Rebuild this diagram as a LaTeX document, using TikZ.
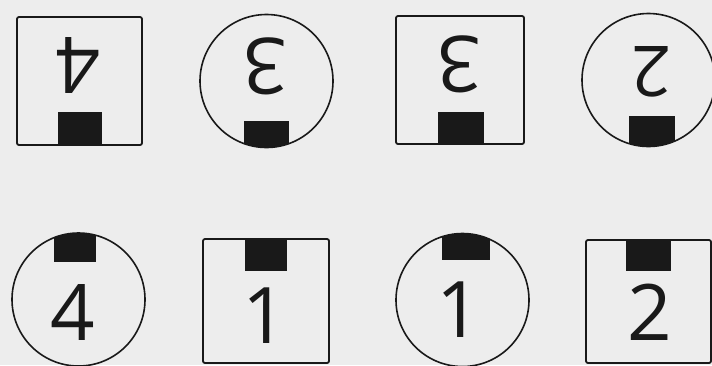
\documentclass[tikz,border=0pt]{standalone}
\usepackage{fontspec}
\newfontfamily\digfont{Open Sans}
\definecolor{bg}{RGB}{237,237,237}
\definecolor{ink}{RGB}{25,25,25}
\tikzset{
  boxframe/.style={draw=ink, line width=1.8pt, rounded corners=2pt, inner sep=0pt},
  ringframe/.style={draw=ink, line width=1.6pt, circle, inner sep=0pt, minimum size=133pt},
  digit/.style={font=\digfont\fontsize{78}{78}\selectfont, text=ink, inner sep=0pt},
  blockfill/.style={fill=ink},
}
\begin{document}
\begin{tikzpicture}[x=1pt,y=-1pt]
\fill[bg] (0,0) rectangle (712,365);
\useasboundingbox (0,0) rectangle (712,365);

% ---------- top row (rotated) ----------
\node[boxframe, minimum width=125pt, minimum height=128pt] (s1) at (79.5,81) {};
\fill[blockfill] (57.5,112) rectangle (101.5,145);
\node[digit, rotate=180] (d1) at (78,65) {4};

\node[ringframe] (c2) at (266.5,81) {};
\begin{scope}
  \clip (266.5,81) circle[radius=66.5];
  \fill[blockfill] (244,121) rectangle (289,150);
\end{scope}
\node[digit, rotate=180] (d2) at (265,66) {3};

\node[boxframe, minimum width=128pt, minimum height=128pt] (s3) at (460,80) {};
\fill[blockfill] (438,112) rectangle (484,144);
\node[digit, rotate=180] (d3) at (459,64) {3};

\node[ringframe] (c4) at (648.5,80) {};
\begin{scope}
  \clip (648.5,80) circle[radius=66.5];
  \fill[blockfill] (629,116) rectangle (675,150);
\end{scope}
\node[digit, rotate=180, font=\digfont\fontsize{70}{70}\selectfont] (d4) at (651,72) {2};

% ---------- bottom row ----------
\node[ringframe] (c5) at (78.5,299.5) {};
\begin{scope}
  \clip (78.5,299.5) circle[radius=66.5];
  \fill[blockfill] (54,230) rectangle (96,262);
\end{scope}
\node[digit] (d5) at (73,312) {4};

\node[boxframe, minimum width=126pt, minimum height=124pt] (s6) at (266,301) {};
\fill[blockfill] (245,239) rectangle (287,271);
\node[digit] (d6) at (265,316) {1};

\node[ringframe] (c7) at (462.5,300) {};
\begin{scope}
  \clip (462.5,300) circle[radius=66.5];
  \fill[blockfill] (442,230) rectangle (490,260);
\end{scope}
\node[digit] (d7) at (459,310) {1};

\node[boxframe, minimum width=125pt, minimum height=123pt] (s8) at (648.5,301.5) {};
\fill[blockfill] (626,240) rectangle (671,271);
\node[digit] (d8) at (650,312) {2};
\end{tikzpicture}
\end{document}
